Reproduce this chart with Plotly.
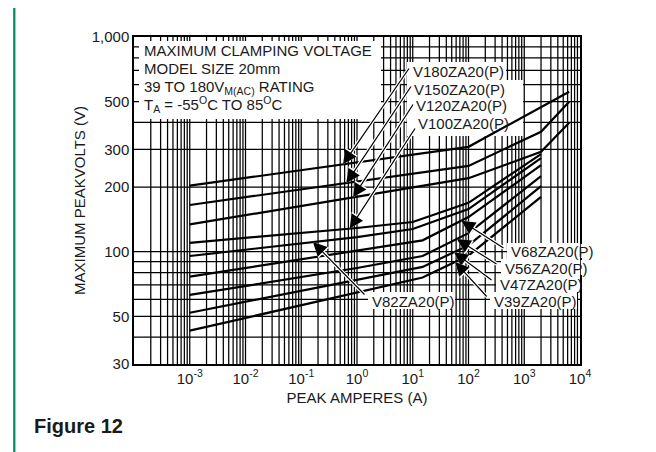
import numpy as np
import plotly.graph_objects as go

# ---------------- data ----------------
I_180 = [1e-3, 100, 6400]
V_180 = [203, 308, 556]
I_150 = [1e-3, 100, 2000, 6400]
V_150 = [165, 251, 362, 500]
I_120 = [1e-3, 100, 2000, 6400]
V_120 = [134, 220, 292, 399]
I_100 = [1e-3, 1, 10, 100, 2000]
V_100 = [110, 129, 137.5, 169, 285]
I_82 = [1e-3, 1, 10, 100, 2000]
V_82 = [95.5, 117, 127.6, 158, 273]
I_68 = [1e-3, 1, 15, 100, 2000]
V_68 = [76.5, 101, 113, 145, 253]
I_56 = [1e-3, 1, 15, 100, 2000]
V_56 = [62.9, 84, 95.5, 122, 225]
I_47 = [1e-3, 1, 15, 100, 2000]
V_47 = [52, 73.8, 85, 107, 202]
I_39 = [1e-3, 1, 15, 100, 2000]
V_39 = [42.9, 64.3, 75.8, 96, 180]

model_names = ["V180ZA20(P)", "V150ZA20(P)", "V120ZA20(P)", "V100ZA20(P)",
               "V82ZA20(P)", "V68ZA20(P)", "V56ZA20(P)", "V47ZA20(P)", "V39ZA20(P)"]

x_tick_vals = [1e-3, 1e-2, 1e-1, 1e0, 1e1, 1e2, 1e3, 1e4]
x_tick_text = ["10<sup>-3</sup>", "10<sup>-2</sup>", "10<sup>-1</sup>", "10<sup>0</sup>",
               "10<sup>1</sup>", "10<sup>2</sup>", "10<sup>3</sup>", "10<sup>4</sup>"]
y_tick_vals = [30, 50, 100, 200, 300, 500, 1000]
y_tick_text = ["30", "50", "100", "200", "300", "500", "1,000"]

x_grid = [m * 10.0 ** d for d in range(-4, 4) for m in range(1, 10)][1:]
y_grid = [40, 50, 60, 70, 80, 90, 100, 200, 300, 400, 500, 600, 700, 800, 900]

series = [(model_names[0], I_180, V_180), (model_names[1], I_150, V_150),
          (model_names[2], I_120, V_120), (model_names[3], I_100, V_100),
          (model_names[4], I_82, V_82), (model_names[5], I_68, V_68),
          (model_names[6], I_56, V_56), (model_names[7], I_47, V_47),
          (model_names[8], I_39, V_39)]

# ---------------- layout geometry ----------------
W, H = 656, 452
OFF = 8                      # page body margin
PL, PT = 134, 37             # plot-area origin on screen
PW, PH = 446, 327
L, T = PL - OFF, PT - OFF
R, B = W - L - PW, H - T - PH
XR = [-4, 4]
YR = [np.log10(30), 3]
FONT = "Liberation Sans, Arial, Helvetica, sans-serif"
TXT = "#1a1a1a"


def paper(px, py):
    return (px - PL) / PW, (PT + PH - py) / PH


def data_px(I, V):
    return (PL + (np.log10(I) - XR[0]) / (XR[1] - XR[0]) * PW,
            PT + (YR[1] - np.log10(V)) / (YR[1] - YR[0]) * PH)


fig = go.Figure()
for name, I, V in series:
    fig.add_trace(go.Scatter(x=I, y=V, mode="lines", name=name,
                             line=dict(color="black", width=2.2),
                             showlegend=False, hoverinfo="skip"))

fig.update_xaxes(type="log", range=XR, tickvals=x_tick_vals, ticktext=x_tick_text,
                 showgrid=False, showline=True, linecolor="black", linewidth=1.5,
                 mirror=True, ticks="", zeroline=False,
                 tickfont=dict(family=FONT, size=15, color=TXT),
                 title=dict(text="PEAK AMPERES (A)", standoff=7,
                            font=dict(family=FONT, size=15, color=TXT)))
fig.update_yaxes(type="log", range=YR, tickvals=y_tick_vals, ticktext=y_tick_text,
                 showgrid=False, showline=True, linecolor="black", linewidth=1.5,
                 mirror=True, ticks="", zeroline=False,
                 tickfont=dict(family=FONT, size=15, color=TXT),
                 title=dict(text="MAXIMUM PEAKVOLTS (V)", standoff=2,
                            font=dict(family=FONT, size=15, color=TXT)))

shapes = []
annotations = []

# grid lines (from the axis grid values), drawn under everything
for v in x_grid:
    xp = (np.log10(v) - XR[0]) / (XR[1] - XR[0])
    shapes.append(dict(type="line", xref="paper", yref="paper", x0=xp, x1=xp, y0=0, y1=1,
                       line=dict(color="black", width=1.25), layer="below"))
for v in y_grid:
    yp = (np.log10(v) - YR[0]) / (YR[1] - YR[0])
    shapes.append(dict(type="line", xref="paper", yref="paper", x0=0, x1=1, y0=yp, y1=yp,
                       line=dict(color="black", width=1.25), layer="below"))


def white_rect(x0, y0, x1, y1, layer="below"):
    a0, b1 = paper(x0, y0)
    a1, b0 = paper(x1, y1)
    shapes.append(dict(type="rect", xref="paper", yref="paper", x0=a0, x1=a1, y0=b0, y1=b1,
                       fillcolor="white", line=dict(width=0), layer=layer))


def text(px, py, s, size=15, anchor="left"):
    a, b = paper(px, py)
    annotations.append(dict(xref="paper", yref="paper", x=a, y=b, text=s, showarrow=False,
                            xanchor=anchor, yanchor="middle",
                            font=dict(family=FONT, size=size, color=TXT)))


def arrow(I, V, Ihead, tail):
    lx = np.log10(Ihead)
    ly = np.interp(lx, np.log10(I), np.log10(V))
    hx, hy = data_px(10 ** lx, 10 ** ly)
    ax, ay = tail[0] - hx, tail[1] - hy
    for col, wdt, sz in (("white", 3.6, 0.85), ("black", 1.2, 2.3)):
        annotations.append(dict(x=lx, y=ly, xref="x", yref="y", ax=ax, ay=ay,
                                axref="pixel", ayref="pixel", text="", showarrow=True,
                                arrowhead=2, arrowsize=sz, arrowwidth=wdt, arrowcolor=col))


# title box (top left)
white_rect(139, 41, 381, 119)
text(142, 50, "MAXIMUM CLAMPING VOLTAGE")
text(142, 68, "MODEL SIZE 20mm")
text(142, 87, "39 TO 180V<sub>M(AC)</sub> RATING")
text(142, 104, "T<sub>A</sub> = -55<sup>O</sup>C TO 85<sup>O</sup>C")

# label box (top right)
white_rect(407, 62, 506, 82)
white_rect(407, 80, 523, 136)
# label backgrounds (bottom)
white_rect(368, 292, 455, 309)
white_rect(507, 243, 580, 259)
white_rect(501, 259, 580, 276)
white_rect(496, 275, 580, 292)
white_rect(490, 292, 577, 309)
# parts of labels that stick out past the right frame
white_rect(580.8, 244, 594, 258, layer="above")
white_rect(580.8, 260, 590, 275, layer="above")

# arrows: (series, head current, tail pixel)
arrow(I_180, V_180, 10 ** -0.25, (410, 67))
arrow(I_150, V_150, 10 ** -0.19, (412, 85))
arrow(I_120, V_120, 10 ** -0.07, (414, 103))
arrow(I_100, V_100, 10 ** -0.13, (416, 127))
arrow(I_82, V_82, 10 ** -0.79, (366, 296))
arrow(I_68, V_68, 10 ** 1.87, (505, 249))
arrow(I_56, V_56, 10 ** 1.79, (498, 265))
arrow(I_47, V_47, 10 ** 1.74, (493, 281))
arrow(I_39, V_39, 10 ** 1.76, (488, 298))

# labels
text(411, 72, model_names[0])
text(412, 89, model_names[1])
text(414, 106, model_names[2])
text(416, 123, model_names[3])
text(370, 301, model_names[4])
text(509, 251, model_names[5])
text(503, 268, model_names[6])
text(498, 284, model_names[7])
text(492, 301, model_names[8])

# figure caption and frame
text(32, 426, "<b>Figure 12</b>", size=20)
gx0, gy0 = paper(14.3, H)
gx1, gy1 = paper(14.3, 0)
shapes.append(dict(type="line", xref="paper", yref="paper", x0=gx0, x1=gx1, y0=gy0, y1=gy1,
                   line=dict(color="#00875f", width=2.2), layer="above"))
tx0, ty = paper(14.3, 0.8)
tx1, _ = paper(W, 0.8)
shapes.append(dict(type="line", xref="paper", yref="paper", x0=tx0, x1=tx1, y0=ty, y1=ty,
                   line=dict(color="#d6ece6", width=1.8), layer="above"))

fig.update_layout(width=W, height=H, margin=dict(l=L, r=R, t=T, b=B, pad=0),
                  paper_bgcolor="white", plot_bgcolor="white",
                  shapes=shapes, annotations=annotations, showlegend=False)

fig.write_html("out.html")
